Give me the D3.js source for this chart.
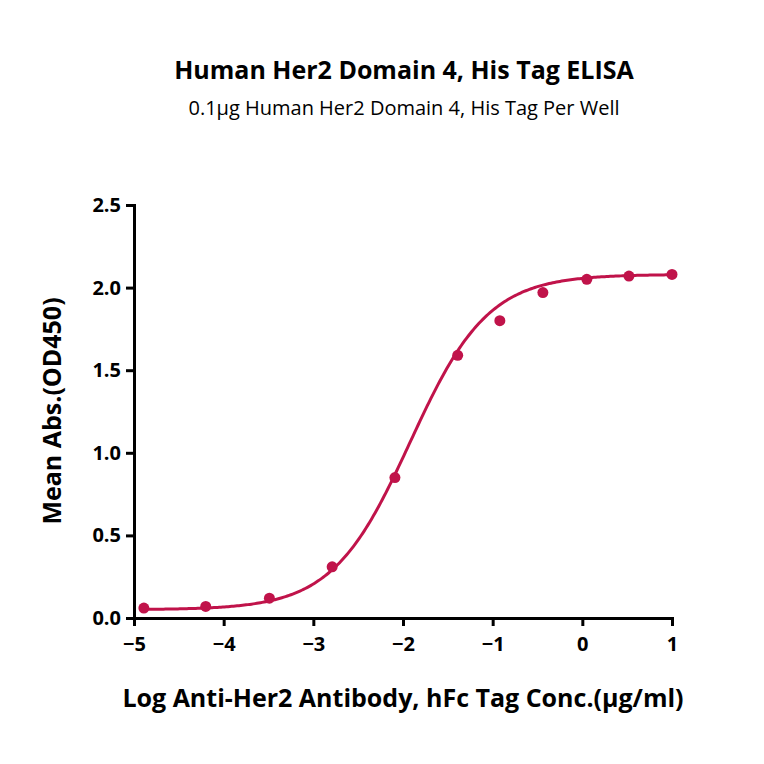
<!DOCTYPE html>
<html><head><meta charset="utf-8">
<script src="https://cdn.jsdelivr.net/npm/d3@7"></script>
<style>body{margin:0;background:#fff}</style>
</head><body><div id="chart"></div>
<script>
const WIDTH = 764, HEIGHT = 764;
const logConc = [-4.89, -4.20, -3.49, -2.79, -2.09, -1.39, -0.92, -0.44, 0.05, 0.52, 1.0];
const meanAbs = [0.06, 0.07, 0.12, 0.31, 0.85, 1.59, 1.80, 1.97, 2.05, 2.07, 2.08];
// 4PL fit parameters: bottom, top, logEC50, hill
const fitParams = [0.05, 2.08, -1.92, 1.0];
const xTicks = [-5, -4, -3, -2, -1, 0, 1];
const yTicks = [0.0, 0.5, 1.0, 1.5, 2.0, 2.5];
const COLOR = "#c0134a";
const FONT = "'Open Sans', 'Noto Sans', sans-serif";

const svg = d3.select("#chart").append("svg").attr("width", WIDTH).attr("height", HEIGHT);
const xScale = d3.scaleLinear().domain([-5, 1]).range([134, 672]);
const yScale = d3.scaleLinear().domain([0, 2.5]).range([618, 205]);

svg.append("text").attr("x", 404).attr("y", 79).attr("text-anchor", "middle")
   .style("font-family", FONT).style("font-weight", "bold").style("font-size", "25px")
   .text("Human Her2 Domain 4, His Tag ELISA");
svg.append("text").attr("x", 404).attr("y", 115).attr("text-anchor", "middle")
   .style("font-family", FONT).style("font-size", "20px")
   .text("0.1μg Human Her2 Domain 4, His Tag Per Well");

// axes
const xAxis = svg.append("g").attr("transform", "translate(0,618)")
   .call(d3.axisBottom(xScale).tickValues(xTicks).tickSize(8).tickFormat(d3.format("d")));
const yAxis = svg.append("g").attr("transform", "translate(134,0)")
   .call(d3.axisLeft(yScale).tickValues(yTicks).tickSize(8).tickFormat(d3.format(".1f")));
[xAxis, yAxis].forEach(a => {
   a.selectAll("path,line").attr("stroke", "#000").attr("stroke-width", 3);
   a.selectAll("text").style("font-family", FONT).style("font-weight", "bold")
    .style("font-size", "20px").attr("fill", "#000");
});
xAxis.selectAll("text").attr("dy", "1.1em");
yAxis.selectAll("text").attr("dx", "-0.1em");

svg.append("text").attr("x", 403).attr("y", 707).attr("text-anchor", "middle")
   .style("font-family", FONT).style("font-weight", "bold").style("font-size", "25px")
   .text("Log Anti-Her2 Antibody, hFc Tag Conc.(μg/ml)");
svg.append("text").attr("transform", "translate(61,411) rotate(-90)").attr("text-anchor", "middle")
   .style("font-family", FONT).style("font-weight", "bold").style("font-size", "25px")
   .text("Mean Abs.(OD450)");

// fitted curve
const [fitBottom, fitTop, ec50, hill] = fitParams;
const fit = x => fitBottom + (fitTop - fitBottom) / (1 + Math.pow(10, (ec50 - x) * hill));
const xs = d3.range(-4.89, 1.0001, 0.02);
svg.append("path").datum(xs)
   .attr("d", d3.line().x(d => xScale(d)).y(d => yScale(fit(d))))
   .attr("fill", "none").attr("stroke", COLOR).attr("stroke-width", 3);

svg.selectAll("circle.pt").data(logConc).enter().append("circle")
   .attr("cx", d => xScale(d)).attr("cy", (d, i) => yScale(meanAbs[i]))
   .attr("r", 5.5).attr("fill", COLOR);
</script></body></html>
